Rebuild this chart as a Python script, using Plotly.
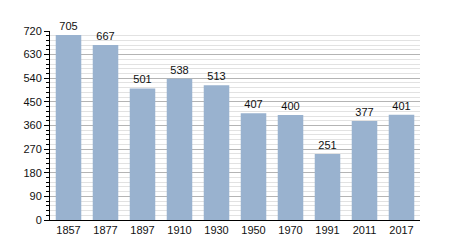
import plotly.graph_objects as go

years = ["1857", "1877", "1897", "1910", "1930", "1950", "1970", "1991", "2011", "2017"]
population = [705, 667, 501, 538, 513, 407, 400, 251, 377, 401]
y_ticks = [0, 90, 180, 270, 360, 450, 540, 630, 720]

fig = go.Figure(go.Bar(
    x=years, y=population,
    marker=dict(color="#99b2cf", line=dict(width=0)),
    text=[str(v) for v in population], textposition="outside",
    textfont=dict(family="Liberation Sans, Arial, sans-serif", size=11, color="#111"),
    cliponaxis=False,
))

fig.update_layout(
    width=450, height=250,
    margin=dict(l=50, r=30, t=31, b=30),
    paper_bgcolor="white", plot_bgcolor="white",
    bargap=0.31,
    showlegend=False,
    font=dict(family="Liberation Sans, Arial, sans-serif", size=11, color="#111"),
)
fig.update_xaxes(
    type="category", showline=True, linecolor="black", linewidth=1,
    ticks="", showgrid=False, tickfont=dict(size=11),
)
fig.update_yaxes(
    range=[0, 720], tickvals=y_ticks, showline=True, linecolor="black", linewidth=1,
    ticks="outside", ticklen=5, tickcolor="black",
    showgrid=True, gridcolor="#b4b4b4", gridwidth=1,
    minor=dict(dtick=18, tick0=0, showgrid=True, gridcolor="#e2e2e2", ticks="outside", ticklen=3, tickcolor="black"),
    zeroline=False, tickfont=dict(size=11),
)

fig.write_html("out.html")
